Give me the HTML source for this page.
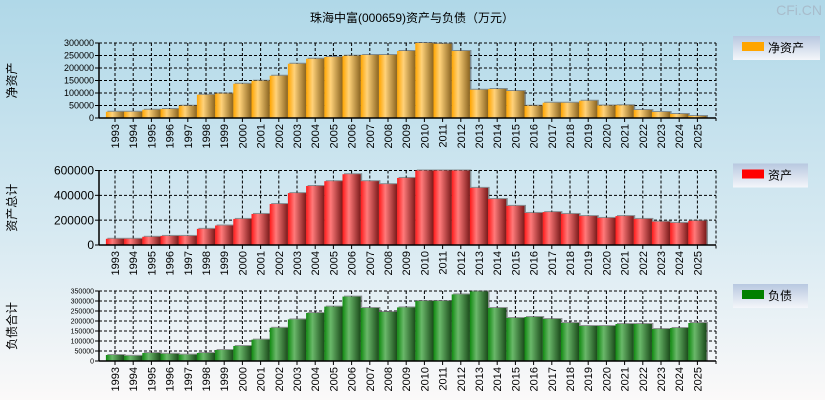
<!DOCTYPE html>
<html><head><meta charset="utf-8"><style>
body{margin:0;width:825px;height:400px;overflow:hidden;background:linear-gradient(#b0d8e8,#d8eaf2 60%,#fbf9f9);font-family:"Liberation Sans","Noto Sans CJK SC",sans-serif}
svg{position:absolute;left:0;top:0}
</style></head><body>
<svg id="c" width="825" height="400">
<defs>
<linearGradient id="g0" x1="0" x2="1"><stop offset="0" stop-color="#ffa500"/><stop offset="0.35" stop-color="#ffd27a"/><stop offset="1" stop-color="#8a6420"/></linearGradient>
<linearGradient id="g1" x1="0" x2="1"><stop offset="0" stop-color="#ff1a1a"/><stop offset="0.35" stop-color="#ff7a7a"/><stop offset="1" stop-color="#7a1a1a"/></linearGradient>
<linearGradient id="g2" x1="0" x2="1"><stop offset="0" stop-color="#108a10"/><stop offset="0.35" stop-color="#6ab86a"/><stop offset="1" stop-color="#1a4a1a"/></linearGradient>
<linearGradient id="lg" x1="0" y1="0" x2="0" y2="1"><stop offset="0" stop-color="#b8c8e0"/><stop offset="1" stop-color="#f4f6fa"/></linearGradient>
</defs>
<text x="412" y="22" text-anchor="middle" font-size="12">珠海中富(000659)资产与负债（万元）</text>
<text x="822" y="15" text-anchor="end" font-size="14" fill="#a8bccb">CFi.CN</text>
</svg>
<script>
const years=[1993,1994,1995,1996,1997,1998,1999,2000,2001,2002,2003,2004,2005,2006,2007,2008,2009,2010,2011,2012,2013,2014,2015,2016,2017,2018,2019,2020,2021,2022,2023,2024,2025];
const netAssets=[25000,25000,33000,36000,49000,93000,98000,137000,149000,169000,217000,237000,244000,249000,252000,252000,268000,300000,297000,268000,113000,116000,108000,49000,61000,61000,69000,50000,51000,32000,24000,16000,8000];
const totalAssets=[50000,50000,66000,73000,73000,130000,157000,210000,250000,330000,418000,475000,514000,570000,514000,490000,540000,600000,600000,600000,460000,370000,315000,258000,265000,250000,233000,218000,233000,210000,188000,178000,195000];
const liabilities=[30000,26000,40000,36000,32000,40000,55000,75000,107000,166000,208000,240000,272000,322000,265000,245000,268000,300000,300000,333000,348000,265000,215000,220000,210000,190000,175000,175000,185000,185000,160000,165000,190000];
const ticks0=[0,50000,100000,150000,200000,250000,300000];
const ticks1=[0,200000,400000,600000];
const ticks2=[0,50000,100000,150000,200000,250000,300000,350000];
const svg=document.getElementById('c');const NS='http://www.w3.org/2000/svg';
function mk(t,a,txt){const e=document.createElementNS(NS,t);for(const k in a)e.setAttribute(k,a[k]);if(txt!==undefined)e.textContent=txt;svg.appendChild(e);return e;}
const X0=99,X1=716,step=18.2,c0=115;
function xc(i){return c0+step*i;}
function panel(key,vals,ticks,top,bot,max,grad,fs,title,legend,lcolor,lw){
  const y=v=>bot-(v/max)*(bot-top);
  ticks.forEach(t=>{
    const l=mk('line',{x1:X0,x2:X1,y1:y(t),y2:y(t),stroke:'#000','stroke-dasharray':'3,2','stroke-width':1});
    
    
    mk('line',{x1:X0-4,x2:X0,y1:y(t),y2:y(t),stroke:'#000'});
    const tx=mk('text',{x:X0-5,y:y(t)+fs*0.35,'text-anchor':'end','font-size':fs},String(t));
    
    
  });
  years.forEach((yr,i)=>{
    const l=mk('line',{x1:xc(i),x2:xc(i),y1:top,y2:bot,stroke:'#000','stroke-dasharray':'3,2'});
    
    
  });
  mk('line',{x1:X1,x2:X1,y1:top,y2:bot+4,stroke:'#000','stroke-dasharray':'3,2'});
  vals.forEach((v,i)=>{
    const x=xc(i)-9.1,yy=y(Math.min(v,max));
    mk('rect',{x:x+1.5,y:yy-1,width:18.2,height:bot-yy+1,fill:'#555',opacity:0.6});
    const r=mk('rect',{x:x,y:yy,width:18.2,height:bot-yy,fill:'url(#'+grad+')'});
    
    
  });
  mk('line',{x1:X0,x2:X0,y1:top,y2:bot,stroke:'#000','stroke-width':1.5});
  mk('line',{x1:X0,x2:X1,y1:bot,y2:bot,stroke:'#000','stroke-width':1.5});
  years.forEach((yr,i)=>{
    mk('line',{x1:xc(i),x2:xc(i),y1:bot,y2:bot+4,stroke:'#000'});
    const t=mk('text',{x:0,y:0,'font-size':11,'text-anchor':'end',transform:`translate(${xc(i)+4},${bot+6}) rotate(-90)`},String(yr));
    
    
  });
  const at=mk('text',{x:0,y:0,'font-size':12,'text-anchor':'middle',transform:`translate(16,${(top+bot)/2}) rotate(-90)`},title);
  
  
  const lb=mk('rect',{x:733,y:top-7,width:lw,height:24,fill:'url(#lg)'});
  
  
  mk('rect',{x:742,y:top-1,width:22,height:9,fill:lcolor});
  const lt=mk('text',{x:768,y:top+9,'font-size':12},legend);
  
  
}
panel('net-assets',netAssets,ticks0,43,118,300000,'g0',9,'净资产','净资产','#ffa500',87);
panel('total-assets',totalAssets,ticks1,170.5,245,600000,'g1',12,'资产总计','资产','#ff0000',75);
panel('liabilities',liabilities,ticks2,291,361,350000,'g2',7,'负债合计','负债','#008000',75);
</script>
</body></html>
